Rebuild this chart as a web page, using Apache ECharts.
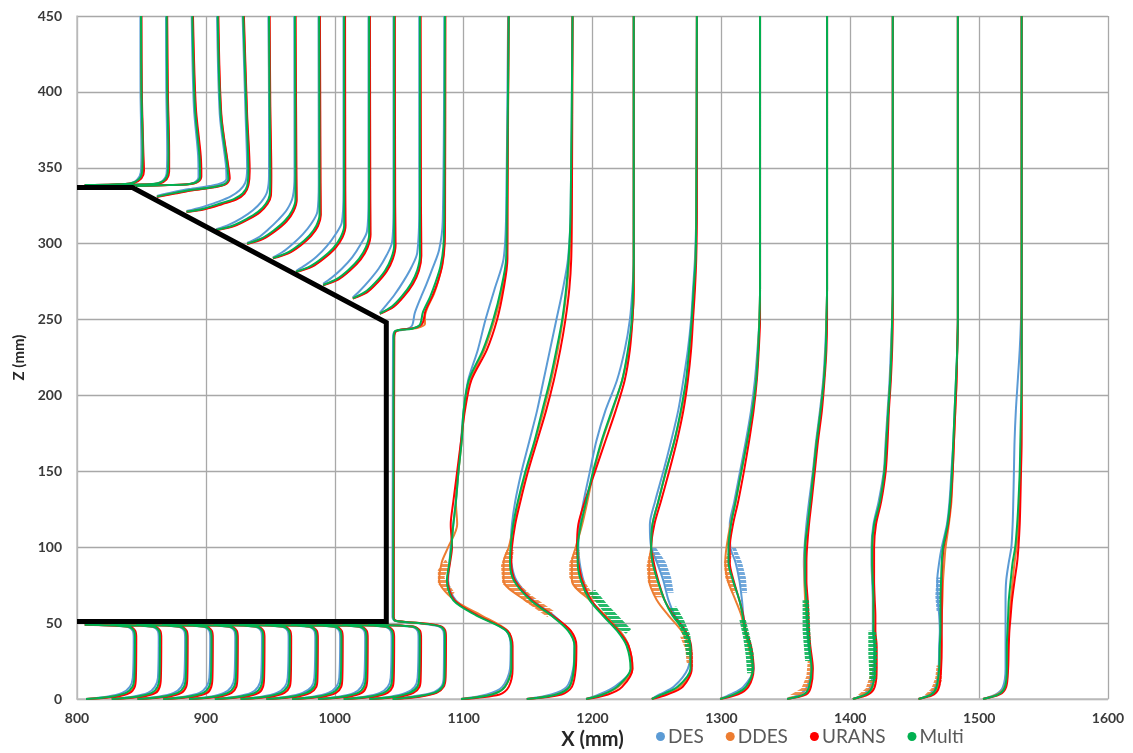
<!DOCTYPE html>
<html>
<head>
<meta charset="utf-8">
<script src="https://cdn.jsdelivr.net/npm/echarts/dist/echarts.min.js"></script>
<style>
html,body{margin:0;padding:0;background:#fff;}
#chart{width:1133px;height:753px;}
</style>
</head>
<body>
<div id="chart"></div>
<script>
// Velocity profiles around the rear of the body: X position (mm) against height Z (mm)
const seriesNames = ['DES', 'DDES', 'URANS', 'Multi'];
const seriesColors = ['#5B9BD5', '#ED7D31', '#FF0000', '#00B050'];

// Body outline (roof, slant, base, underside)
const bodyX = [800, 843, 1040, 1040, 800];
const bodyZ = [337, 337, 248, 51, 51];

// Underbody profiles (12 stations ahead of the base), common heights
const underZ = [0, 1.5, 4, 8, 14, 40, 45, 47.8, 49];
const underDES = [
  [807,823,835,841,843.3,844,843.2,838,806],
  [827,843,855,860.4,862.8,863.4,862.6,857.4,826],
  [847,863,875,880.9,883.2,883.9,883.1,877.9,846],
  [867,883,895,900.4,902.7,903.4,902.6,897.4,866],
  [887,903,914,919.8,922.1,922.8,922,916.8,886],
  [907,923,935,940.5,942.8,943.5,942.7,937.5,906],
  [927,943,955,961.2,963.5,964.2,963.4,958.2,926],
  [947,963,975,981.9,984.2,984.9,984.1,978.9,946],
  [967,983,995,1001.2,1003.5,1004.2,1003.4,998.2,966],
  [987,1003,1015,1020.6,1022.9,1023.6,1022.8,1017.6,986],
  [1007,1023,1035,1041.1,1043.4,1044.1,1043.3,1038.1,1006],
  [1027,1043,1055,1062,1064.3,1065,1064.2,1059,1026]
];
const underDDES = [
  [807,827,839,843.5,845,845.3,844.5,839.5,806],
  [827,847,859,863,864.4,864.7,863.9,858.9,826],
  [847,867,879,883.4,884.9,885.2,884.4,879.4,846],
  [867,887,899,902.9,904.4,904.7,903.9,898.9,866],
  [887,907,918,922.3,923.8,924.1,923.3,918.3,886],
  [907,927,939,943,944.5,944.8,944,939,906],
  [927,947,959,963.7,965.2,965.5,964.7,959.7,926],
  [947,967,979,984.4,985.9,986.2,985.4,980.4,946],
  [967,987,999,1003.7,1005.2,1005.5,1004.7,999.7,966],
  [987,1007,1019,1023.1,1024.6,1024.9,1024.1,1019.1,986],
  [1007,1027,1039,1043.6,1045.1,1045.4,1044.6,1039.6,1006],
  [1027,1047,1059,1064.5,1066,1066.3,1065.5,1060.5,1026]
];
const underURANS = [
  [807,830,841,844.8,845.7,846,845.2,840,806],
  [827,850,861,864.2,865.1,865.4,864.6,859.4,826],
  [847,870,881,884.7,885.6,885.9,885.1,879.9,846],
  [867,890,901,904.2,905.1,905.4,904.6,899.4,866],
  [887,910,920,923.6,924.5,924.8,924,918.8,886],
  [907,930,941,944.3,945.2,945.5,944.7,939.5,906],
  [927,950,961,965,965.9,966.2,965.4,960.2,926],
  [947,970,981,985.7,986.6,986.9,986.1,980.9,946],
  [967,990,1001,1005,1005.9,1006.2,1005.4,1000.2,966],
  [987,1010,1021,1024.4,1025.3,1025.6,1024.8,1019.6,986],
  [1007,1030,1041,1044.9,1045.8,1046.1,1045.3,1040.1,1006],
  [1027,1050,1061,1065.8,1066.7,1067,1066.2,1061,1026]
];
const underMulti = [
  [807,826,838,843,844.5,845,844.2,839,806],
  [827,846,858,862.4,864,864.4,863.6,858.4,826],
  [847,866,878,882.9,884.4,884.9,884.1,878.9,846],
  [867,886,898,902.4,903.9,904.4,903.6,898.4,866],
  [887,906,917,921.8,923.3,923.8,923,917.8,886],
  [907,926,938,942.5,944,944.5,943.7,938.5,906],
  [927,946,958,963.2,964.7,965.2,964.4,959.2,926],
  [947,966,978,983.9,985.4,985.9,985.1,979.9,946],
  [967,986,998,1003.2,1004.7,1005.2,1004.4,999.2,966],
  [987,1006,1018,1022.6,1024.1,1024.6,1023.8,1018.6,986],
  [1007,1026,1038,1043.1,1044.6,1045.1,1044.3,1039.1,1006],
  [1027,1046,1058,1064,1065.5,1066,1065.2,1060,1026]
];

// Profiles above the roof and slant, [x, z] from the wall upward
const roofDES = [
  [[806,338.6],[828,339],[841,339.6],[846.5,342],[849.5,347],[850,360],[849.3,400],[849.2,450]],
  [[826,338.6],[850,339],[861,339.5],[866.5,341.5],[869.5,346],[870,360],[869.3,400],[869.1,450]],
  [[846,338],[870,338.6],[885,339],[891,340.3],[894.3,344],[894,358],[890.7,390],[889,450]],
  [[862,331.5],[875,334],[887,336],[903,338],[912,339.8],[916,343],[915.5,352],[910.8,385],[908.7,450]],
  [[885,321.5],[897,324],[909,327.5],[919,331],[926,335],[930.5,340],[932,349],[930.8,385],[928.5,450]],
  [[908,309.5],[918,312.5],[928,317],[936.5,322],[943,327.5],[947.5,334],[949,345],[949,390],[948.5,450]],
  [[932,300.5],[940.5,304],[948.5,309.5],[956.5,316],[963,322.5],[967.5,331],[968.8,345],[968.6,450]],
  [[952,291],[959.5,294.5],[967.5,300],[975.5,306.5],[982,313.5],[986.5,321],[987.6,340],[987.4,450]],
  [[970,282],[977.5,286],[986,291.5],[994,298.5],[1000.5,306],[1005.5,314],[1006.8,335],[1006.8,450]],
  [[991,273.5],[997.5,277.5],[1005.5,283.5],[1013.5,291],[1020,299.5],[1025,308],[1026.2,330],[1026.2,450]],
  [[1014,264.5],[1019.5,269],[1026.5,275.5],[1034,283.5],[1040,292],[1044.5,301],[1045.6,325],[1045.6,450]],
  [[1035,254.5],[1040,259.5],[1046.5,266.5],[1053.5,275.5],[1059.5,284.5],[1064,294],[1065.6,325],[1065.6,450]]
];
const roofDDES = [
  [[806,338.6],[829,339],[843,339.9],[849,342.8],[851,347.5],[851,360],[850.1,400],[849.8,450]],
  [[826,338.6],[851,339],[863,339.6],[869,342.2],[871,347.2],[871.2,360],[870.3,400],[869.8,450]],
  [[846,338],[871,338.6],[887,339.2],[893.2,340.6],[896,344.2],[895.5,358],[891.8,390],[889.7,450]],
  [[862,331],[875.5,333.2],[889,335.2],[905.5,337.2],[914.8,339.1],[918,342.8],[917,352],[911.8,385],[909.4,450]],
  [[885,321],[898.5,322.8],[912,326.2],[923,329.2],[929.2,333],[932.6,338.2],[933.5,348],[931.8,385],[929.2,450]],
  [[908,309],[921.5,311.7],[932,316],[941.5,321],[947.3,326.3],[950.2,332],[950.5,345],[949.8,390],[949.2,450]],
  [[932,300],[944,303.4],[953.5,308.6],[962.2,315],[967.7,321.7],[970.1,329],[970,345],[969.4,450]],
  [[952,290.5],[963.6,293.8],[972.8,298.9],[981.1,305.2],[986.5,311.8],[988.8,319],[988.7,340],[988.2,450]],
  [[970,281.5],[982,285.1],[991.4,290.6],[1000,297.3],[1005.5,304.3],[1008,312],[1007.9,335],[1007.7,450]],
  [[991,272.8],[1002.5,276.7],[1011.5,282.6],[1019.7,289.9],[1025,297.6],[1027.4,306],[1027.2,330],[1027,450]],
  [[1014,264],[1024.4,268.1],[1032.5,274.4],[1039.9,282.1],[1044.6,290.2],[1046.8,299],[1046.6,325],[1046.4,450]],
  [[1035,254],[1045.1,258.5],[1053,265.3],[1060.2,273.7],[1064.8,282.4],[1066.8,292],[1066.6,325],[1066.4,450]]
];
const roofURANS = [
  [[806,338.6],[830,339],[844,340],[850,343],[852,348],[851.5,360],[850.3,400],[850,450]],
  [[826,338.6],[852,339],[864,339.7],[869.5,342.3],[871.5,347.5],[871.5,360],[870.5,400],[870,450]],
  [[846,338],[872,338.6],[888,339.3],[894,340.8],[896.5,344.5],[896,358],[892.2,390],[890,450]],
  [[862,330.8],[876,333],[890,335.2],[906.5,337.2],[915.5,339.2],[918.5,343],[917.2,352],[912,385],[909.7,450]],
  [[885,320.8],[899,322.7],[912.5,326],[923.5,329],[930,333],[933,338.5],[934,348],[932,385],[929.5,450]],
  [[908,308.8],[922,311.6],[932.5,315.8],[942,320.8],[947.8,326.1],[950.5,332],[950.8,345],[950,390],[949.5,450]],
  [[932,299.8],[944.5,303.2],[954,308.4],[962.7,314.8],[968.1,321.5],[970.5,329],[970.3,345],[969.6,450]],
  [[952,290.3],[964,293.6],[973.3,298.7],[981.6,305],[987,311.6],[989.2,319],[989,340],[988.5,450]],
  [[970,281.3],[982.5,284.9],[991.9,290.4],[1000.5,297.1],[1006,304.1],[1008.4,312],[1008.2,335],[1008,450]],
  [[991,272.6],[1003,276.5],[1012,282.4],[1020.2,289.7],[1025.5,297.4],[1027.8,306],[1027.6,330],[1027.3,450]],
  [[1014,263.8],[1025,267.9],[1033,274.2],[1040.4,281.9],[1045.1,290],[1047.2,299],[1046.9,325],[1046.6,450]],
  [[1035,253.8],[1045.6,258.3],[1053.5,265.1],[1060.7,273.5],[1065.3,282.2],[1067.2,292],[1066.9,325],[1066.6,450]]
];
const roofMulti = [
  [[806,338.6],[828,339],[842,339.8],[848,342.5],[850.5,347],[851,360],[850,400],[849.7,450]],
  [[826,338.6],[850,339],[862,339.6],[868,342],[870.5,347],[871,360],[870,400],[869.6,450]],
  [[846,338],[870,338.6],[886,339.2],[892.5,340.5],[895.5,344],[895,358],[891.5,390],[889.5,450]],
  [[862,331],[875,333.3],[888,335.3],[905,337.2],[914,339],[917.4,342.5],[916.5,352],[911.5,385],[909.2,450]],
  [[885,321],[898,323],[911,326.5],[922,329.5],[928.5,333],[932,338],[933,348],[931.5,385],[929,450]],
  [[908,309],[920.5,311.8],[931,316],[940.5,321],[946.5,326.3],[949.5,332],[950,345],[949.5,390],[949,450]],
  [[932,300],[943.3,303.5],[952.6,308.7],[961.3,315.1],[966.9,321.8],[969.5,329],[969.5,345],[969.1,450]],
  [[952,290.5],[962.8,293.9],[971.9,299],[980.2,305.3],[985.7,311.9],[988.2,319],[988.2,340],[987.9,450]],
  [[970,281.5],[981.2,285.2],[990.5,290.7],[999.1,297.4],[1004.7,304.4],[1007.3,312],[1007.3,335],[1007.3,450]],
  [[991,272.8],[1001.7,276.8],[1010.6,282.7],[1018.8,290],[1024.2,297.7],[1026.7,306],[1026.7,330],[1026.7,450]],
  [[1014,264],[1023.6,268.2],[1031.6,274.5],[1039,282.2],[1043.8,290.3],[1046.1,299],[1046.1,325],[1046.1,450]],
  [[1035,254],[1044.3,258.6],[1052.1,265.4],[1059.3,273.8],[1064,282.5],[1066.1,292],[1066.1,325],[1066.1,450]]
];

// Station just behind the base: full height, [x, z]
const baseDES = [[1045,0],[1059,1.5],[1075,4],[1082.5,8],[1084.5,14],[1084.8,40],[1084.2,45],[1080,48],[1064,50],[1046.5,51.5],[1044.8,54],[1045,150],[1045.2,238],[1046.5,242],[1055,243.5],[1060,246],[1062,254],[1066.5,264],[1071,273],[1076,284],[1081,296],[1083.8,315],[1085,450]];
const baseDDES = [[1045,0],[1063,1.5],[1078,4],[1084,8],[1085.6,14],[1085.9,40],[1085.4,45],[1081.5,48],[1065.5,50],[1047.2,51.5],[1045.6,54],[1045.8,150],[1046,238],[1048,242.5],[1064,244.5],[1070,247],[1070,252],[1072,258],[1077,267],[1080.5,276],[1083.5,287],[1085,300],[1085.5,320],[1085.7,450]];
const baseURANS = [[1045,0],[1066,1.5],[1079,4],[1084.5,8],[1086,14],[1086.3,40],[1085.8,45],[1082,48],[1066,50],[1047.5,51.5],[1045.8,54],[1046,150],[1046.2,238],[1048,242.5],[1062,244.5],[1068,247.5],[1070.5,256],[1076,266],[1080,275],[1083.5,286],[1085.3,300],[1085.6,320],[1085.8,450]];
const baseMulti = [[1045,0],[1062,1.5],[1077,4],[1083.5,8],[1085.2,14],[1085.5,40],[1085,45],[1081,48],[1065,50],[1047,51.5],[1045.4,54],[1045.6,150],[1045.8,238],[1047,242.5],[1060,244],[1066,246.5],[1068.5,255],[1074,265],[1078,274],[1082,285],[1084.3,298],[1085,320],[1085.5,450]];

// Wake profiles (9 stations), common heights
const wakeZ = [0, 3, 8, 20, 35, 45, 55, 65, 78, 90, 100, 115, 130, 150, 170, 190, 210, 230, 250, 270, 290, 320, 450];
const wakeDES = [
  [1098,1118,1130,1136,1136.5,1133,1112,1094,1088,1089,1090,1092,1094,1096,1098,1100,1103.5,1111,1117,1124,1131,1133,1134.5],
  [1149,1168,1180,1185,1186,1182,1170,1154,1141,1137,1136.5,1137.5,1140,1145,1151,1157,1162,1167,1172,1177,1181,1183,1184.5],
  [1195,1205,1217,1230,1228,1221,1209,1199,1193,1190,1189,1190,1193,1198,1203,1210,1219,1225,1229,1231,1232,1232,1232],
  [1246,1252,1263,1274,1276,1272,1264,1259,1255,1250,1245.5,1244.5,1248.5,1255,1261,1266.5,1270.5,1274,1276.5,1278,1279.5,1280.5,1281],
  [1299,1307,1317,1325,1322,1318,1317,1316,1314,1311,1307,1306.5,1310,1314.5,1319,1323,1326,1328,1329.5,1330,1330,1330,1330],
  [1351,1361,1366.5,1369.5,1367.5,1366.5,1366,1365.5,1364.5,1364,1364.5,1366,1368,1371,1373.5,1376.5,1379,1380.5,1381.5,1382,1382,1382,1382],
  [1402,1410,1415.5,1418,1418.5,1417.5,1417.5,1417.5,1417,1416.5,1416.5,1418,1422,1426,1427.5,1429,1430.5,1431.5,1432.5,1433,1433,1433,1433],
  [1453,1461,1466,1468.5,1469,1469.5,1469,1468,1467.5,1469,1471,1475,1477,1478.5,1480,1481,1482,1483,1483.5,1483.5,1483.5,1483.5,1483.5],
  [1503,1513,1518.5,1520.5,1520.5,1520.5,1520.5,1520.5,1521,1523,1525,1526,1526.5,1527,1527.5,1528.5,1530,1531.5,1532.5,1533,1533,1533,1533]
];
const wakeDDES = [
  [1098,1122,1132,1137,1137.5,1134,1114,1093,1081,1083,1088,1095,1094,1096,1098.5,1100.5,1105,1116,1124,1130,1133.5,1134,1135],
  [1149,1172,1182,1186,1187,1183,1168,1148,1131,1131,1135,1139,1142.5,1148.5,1155.5,1162,1168,1173,1177,1180,1182,1183.5,1184.5],
  [1195,1208,1220,1231,1228,1221,1210,1198,1184,1184,1187,1192,1196,1201,1207.5,1215.5,1223,1228,1231,1232,1232,1232,1232],
  [1246,1255,1268,1276.5,1275,1269,1259,1250,1244,1244,1245.5,1246.5,1251,1257,1263.5,1269,1273,1275.5,1277.5,1279,1280,1280.5,1281],
  [1299,1310,1320,1324,1321,1318,1315.5,1311,1305,1303,1304,1307,1311,1315.5,1320,1324,1327,1328.5,1329.5,1330,1330,1330,1330],
  [1351,1364,1368.5,1370,1368.5,1367,1366,1365,1364.5,1364.5,1365,1367,1369,1371.5,1374,1377,1379.5,1381,1381.5,1382,1382,1382,1382],
  [1402,1412,1417,1419.5,1419.5,1418.5,1418,1418,1417.5,1417,1417,1419,1423,1426.5,1428,1429.5,1431,1432,1432.5,1433,1433,1433,1433],
  [1453,1463,1467.5,1469.5,1470,1470.5,1471,1471.5,1472,1473,1474,1476.5,1478.5,1479.5,1480.5,1481.5,1482.5,1483,1483.5,1483.5,1483.5,1483.5,1483.5],
  [1503,1514,1520,1522,1522.5,1523,1523.5,1524.5,1526,1527.5,1529,1530.5,1531,1532,1532.5,1533,1533,1533,1533,1533,1533,1533,1533]
];
const wakeURANS = [
  [1098,1128,1135,1138,1138,1134,1111,1093,1087.5,1089.5,1091,1090,1092,1095,1098,1101,1106,1118,1126,1131,1134,1134,1135],
  [1149,1176,1184,1187,1187.5,1183,1169,1153,1140,1137,1137.5,1140,1144,1150,1157,1164,1170,1175,1179,1182,1183.5,1184,1184.5],
  [1195,1212,1223,1231,1228,1220,1209,1199,1192,1189,1188,1189,1194,1202,1210,1218,1225,1229,1231,1232,1232,1232,1232],
  [1246,1258,1270,1277,1276.5,1272,1263,1256,1251,1247.5,1245.5,1248,1253,1259.5,1265.5,1270.5,1274,1276.5,1278,1279.5,1280.5,1281,1281],
  [1299,1313,1321,1325,1323,1319,1317,1314,1309.5,1306.5,1306.5,1309,1313,1317.5,1321.5,1325,1327.5,1329,1330,1330,1330,1330,1330],
  [1351,1366,1369.5,1371,1369,1368,1367.5,1367,1366,1366,1366.5,1368,1370,1372.5,1375,1378,1380,1381.5,1382,1382,1382,1382,1382],
  [1402,1414,1419,1420.5,1420.5,1419.5,1419.5,1419,1418.5,1418.5,1418.5,1420,1424,1427.5,1429,1430,1431.5,1432.5,1433,1433,1433,1433,1433],
  [1453,1465,1469,1470.5,1471,1471,1471,1471,1471,1471.5,1472.5,1476,1478,1479.5,1480.5,1481.5,1482.5,1483,1483.5,1483.5,1483.5,1483.5,1483.5],
  [1503,1516,1521,1522.5,1523,1523.5,1524.5,1525.5,1527.5,1529.5,1530.5,1531.5,1532,1532.5,1533,1533,1533,1533,1533,1533,1533,1533,1533]
];
const wakeMulti = [
  [1098,1122,1132,1137,1137,1133,1110,1092,1087,1089,1090.5,1092,1094,1096,1098.5,1100,1104,1115,1123,1129,1133,1133.5,1135],
  [1149,1172,1182,1185.5,1186,1181,1168,1152,1139,1136,1136.5,1138.5,1142,1148,1155,1161,1167,1172,1176.5,1179.5,1181.5,1183,1184.5],
  [1195,1208,1219,1229.5,1226.5,1219,1208,1198,1191,1188.5,1188.5,1191,1195,1200.5,1207,1215,1223,1227.5,1230.5,1231.5,1232,1232,1232],
  [1246,1254,1266,1276,1276,1271,1262,1256,1250.5,1246.5,1245.5,1246.5,1251,1257,1263.5,1268.5,1272.5,1275,1277,1278.5,1280,1280.5,1281],
  [1299,1310,1319,1324.5,1322,1318.5,1316.5,1314,1309,1305.5,1305.5,1307.5,1311,1315.5,1320,1324,1327,1328.5,1329.5,1330,1330,1330,1330],
  [1351,1364,1368,1370,1368,1367,1366.5,1366,1365,1365,1365,1367,1369,1371.5,1374,1377,1379.5,1381,1381.5,1382,1382,1382,1382],
  [1402,1412,1417,1419,1419,1418,1418,1418,1417.5,1417,1417,1418.5,1423,1426.5,1428,1429.5,1431,1432,1432.5,1433,1433,1433,1433],
  [1453,1463,1467,1469,1469.5,1470,1470,1470,1470.5,1471,1472,1475.5,1477.5,1479,1480,1481,1482,1483,1483.5,1483.5,1483.5,1483.5,1483.5],
  [1503,1515,1520,1521.5,1521.5,1522,1522.5,1523,1524.5,1526,1528,1529.5,1530.5,1531.5,1532,1532.5,1533,1533,1533,1533,1533,1533,1533]
];

// Spread of the unsteady samples in the wake, as [x, z] outlines
const spreadDES = [
  [[1246,100],[1250,90],[1255,80],[1258,70],[1263,70],[1261,80],[1257,90],[1249,100]],
  [[1308,100],[1312,90],[1314,80],[1316,70],[1320,70],[1319,80],[1316,90],[1311,100]],
  [[1467,58],[1466,68],[1467,80],[1471,80],[1470,68],[1471,58]]
];
const spreadDDES = [
  [[1090,68],[1080,76],[1080,85],[1086,92],[1089,88],[1085,80],[1093,70]],
  [[1165,54],[1148,64],[1130,76],[1129,88],[1133,98],[1139,98],[1137,88],[1140,78],[1153,68],[1170,58]],
  [[1200,64],[1188,72],[1182,80],[1182,90],[1186,98],[1190,98],[1190,90],[1192,80],[1198,72],[1207,64]],
  [[1249,67],[1243,77],[1242,88],[1244,96],[1248,96],[1248,88],[1250,77],[1254,67]],
  [[1268,41],[1272,33],[1273,24],[1278,21],[1278,30],[1275,41]],
  [[1308,70],[1303,80],[1302,90],[1305,96],[1308,96],[1307,88],[1309,80],[1311,70]],
  [[1352,2],[1362,7],[1366,15],[1367,25],[1370,25],[1370,13],[1366,5],[1358,1]],
  [[1405,2],[1412,7],[1415,15],[1416,25],[1420,25],[1421,13],[1417,5],[1410,1]],
  [[1457,2],[1463,7],[1466,14],[1467,22],[1471,22],[1471,12],[1468,5],[1462,1]]
];
const spreadMulti = [
  [[1197,70],[1208,58],[1219,47],[1226,43],[1230,46],[1222,53],[1212,62],[1202,72]],
  [[1260,60],[1266,50],[1271,40],[1273,28],[1277,28],[1276,42],[1271,52],[1265,61]],
  [[1314,52],[1317,40],[1319,28],[1320,17],[1325,17],[1325,30],[1322,42],[1319,52]],
  [[1363,65],[1363,45],[1365,25],[1370,25],[1369,45],[1368,65]],
  [[1414,45],[1414,30],[1415,12],[1420,12],[1421,30],[1420,45]]
];
const spreadSets = [spreadDES, spreadDDES, [], spreadMulti];

const underSets = [underDES, underDDES, underURANS, underMulti];
const roofSets = [roofDES, roofDDES, roofURANS, roofMulti];
const baseSets = [baseDES, baseDDES, baseURANS, baseMulti];
const wakeSets = [wakeDES, wakeDDES, wakeURANS, wakeMulti];

const GAP = ['-', '-'];

// One polyline per series; profiles are separated by empty points
function buildSeriesData(s) {
  const out = [];
  underSets[s].forEach(function (xs, k) {
    xs.forEach(function (x, i) { out.push([x, underZ[i]]); });
    out.push(GAP);
    roofSets[s][k].forEach(function (p) { out.push([p[0], p[1]]); });
    out.push(GAP);
  });
  baseSets[s].forEach(function (p) { out.push([p[0], p[1]]); });
  out.push(GAP);
  wakeSets[s].forEach(function (xs) {
    xs.forEach(function (x, i) { out.push([x, wakeZ[i]]); });
    out.push(GAP);
  });
  return out;
}

// Horizontal hatching used to fill the spread outlines
function hatchPattern(color) {
  const c = document.createElement('canvas');
  c.width = 8;
  c.height = 4;
  const g = c.getContext('2d');
  g.fillStyle = color;
  g.fillRect(0, 0, 8, 3);
  return c;
}

const chart = echarts.init(document.getElementById('chart'), null, { renderer: 'canvas' });

const allSeries = [];
seriesNames.forEach(function (name, s) {
  const polys = spreadSets[s];
  if (polys.length) {
    const pattern = { image: hatchPattern(seriesColors[s]), repeat: 'repeat' };
    allSeries.push({
      name: name + ' spread',
      type: 'custom',
      silent: true,
      data: polys.map(function (p) { return p[0]; }),
      encode: { x: 0, y: 1 },
      renderItem: function (params, api) {
        const pts = polys[params.dataIndex].map(function (p) { return api.coord(p); });
        return {
          type: 'polygon',
          shape: { points: pts },
          style: { fill: pattern, opacity: 0.85 }
        };
      },
      z: 2 + s
    });
  }
  allSeries.push({
    name: name,
    type: 'line',
    data: buildSeriesData(s),
    showSymbol: false,
    symbol: 'circle',
    symbolSize: 9,
    smooth: 0.3,
    connectNulls: false,
    color: seriesColors[s],
    lineStyle: { color: seriesColors[s], width: 2 },
    itemStyle: { color: seriesColors[s] },
    emphasis: { disabled: true },
    z: 2 + s
  });
});

allSeries.push({
  name: 'body',
  type: 'line',
  data: bodyX.map(function (x, i) { return [x, bodyZ[i]]; }),
  showSymbol: false,
  symbol: 'none',
  lineStyle: { color: '#000000', width: 5, join: 'miter' },
  silent: true,
  z: 10
});

const tickFont = { fontFamily: 'Lato', fontWeight: 'bold', fontSize: 14, color: '#3a3a3a' };

chart.setOption({
  animation: false,
  backgroundColor: '#ffffff',
  grid: { left: 77, right: 25, top: 16, bottom: 54, containLabel: false, outerBoundsMode: 'none' },
  legend: {
    data: seriesNames,
    icon: 'circle',
    itemWidth: 9,
    itemHeight: 9,
    itemGap: 22,
    left: 656,
    top: 727,
    padding: 0,
    textStyle: { fontFamily: 'Lato', fontSize: 19, color: '#595959', padding: [0, 0, 0, -2] }
  },
  xAxis: {
    type: 'value',
    min: 800,
    max: 1600,
    interval: 100,
    name: 'X (mm)',
    nameLocation: 'middle',
    nameGap: 31,
    nameTextStyle: { fontFamily: 'Lato', fontWeight: 'bold', fontSize: 20, color: '#262626' },
    axisLine: { show: true, lineStyle: { color: '#BFBFBF', width: 1.5 } },
    axisTick: { show: false },
    axisLabel: Object.assign({ margin: 12, formatter: function (v) { return String(v); } }, tickFont),
    splitLine: { show: true, lineStyle: { color: '#A8A8A8', width: 1.3 } }
  },
  yAxis: {
    type: 'value',
    min: 0,
    max: 450,
    interval: 50,
    name: 'Z (mm)',
    nameLocation: 'middle',
    nameGap: 44,
    nameRotate: 90,
    nameTextStyle: { fontFamily: 'Lato', fontWeight: 'bold', fontSize: 15, color: '#262626' },
    axisLine: { show: true, lineStyle: { color: '#BFBFBF', width: 1.5 } },
    axisTick: { show: false },
    axisLabel: Object.assign({ margin: 15 }, tickFont),
    splitLine: { show: true, lineStyle: { color: '#A8A8A8', width: 1.3 } }
  },
  series: allSeries
});
</script>
</body>
</html>
